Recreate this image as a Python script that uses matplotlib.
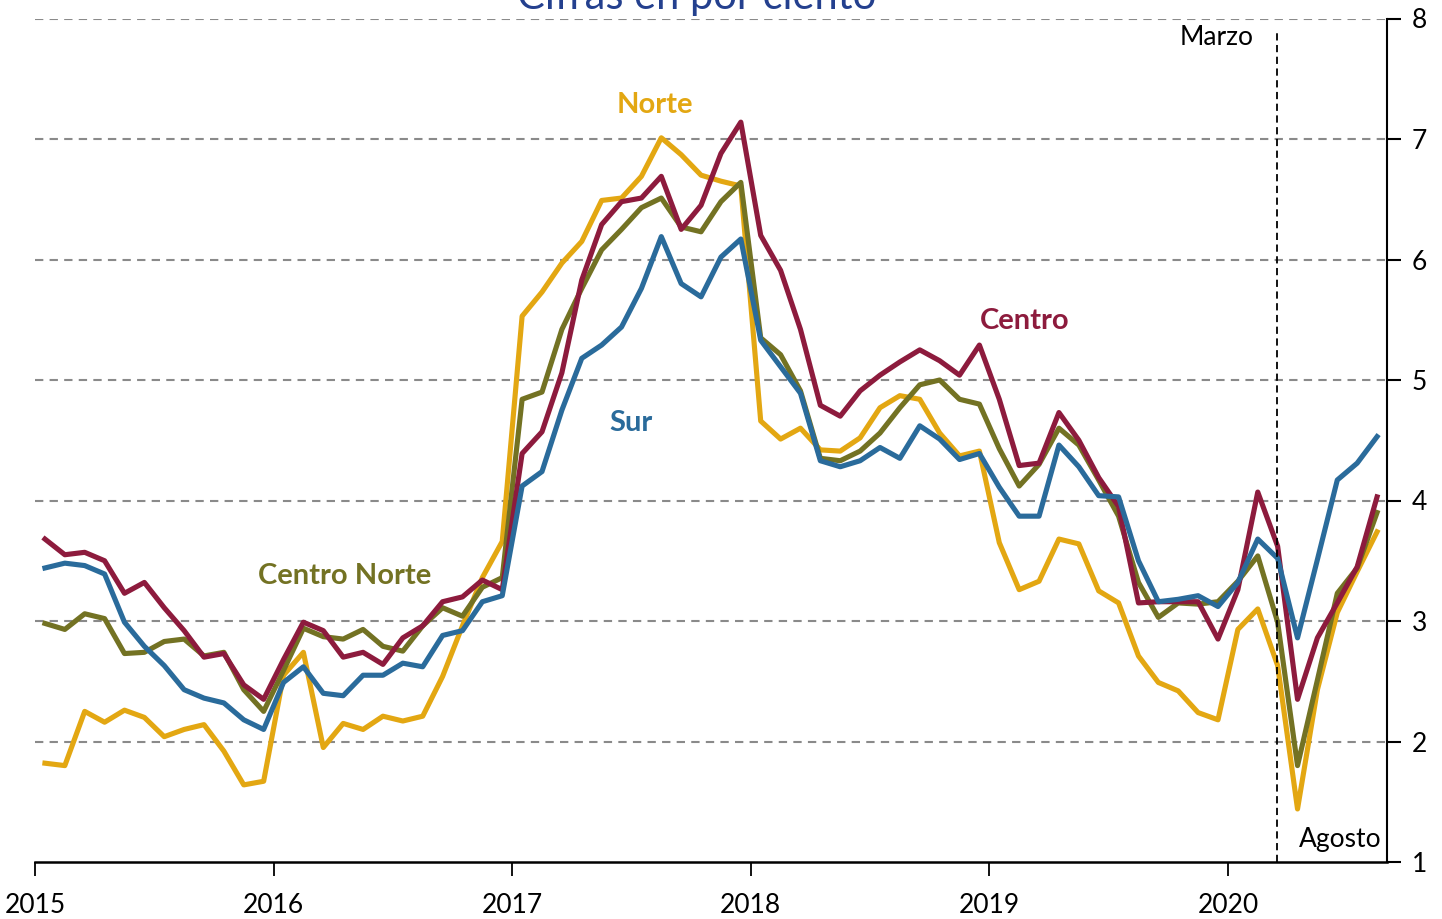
import matplotlib
matplotlib.use("Agg")
import matplotlib.pyplot as plt
import numpy as np

# Monthly data Jan 2015 - Aug 2020 (percent)
years = ["2015", "2016", "2017", "2018", "2019", "2020"]

norte = [1.82, 1.80, 2.25, 2.16, 2.26, 2.20, 2.04, 2.10, 2.14, 1.92, 1.64, 1.67,
         2.55, 2.74, 1.95, 2.15, 2.10, 2.21, 2.17, 2.21, 2.54, 2.96, 3.36, 3.66,
         5.53, 5.73, 5.97, 6.15, 6.49, 6.51, 6.69, 7.01, 6.87, 6.70, 6.65, 6.61,
         4.66, 4.51, 4.60, 4.42, 4.41, 4.52, 4.77, 4.87, 4.84, 4.56, 4.37, 4.41,
         3.65, 3.26, 3.33, 3.68, 3.64, 3.25, 3.15, 2.71, 2.49, 2.42, 2.24, 2.18,
         2.93, 3.10, 2.63, 1.44, 2.43, 3.07, 3.41, 3.74]

centro = [3.68, 3.55, 3.57, 3.50, 3.23, 3.32, 3.11, 2.92, 2.70, 2.73, 2.47, 2.35,
          2.68, 2.99, 2.92, 2.70, 2.74, 2.64, 2.86, 2.96, 3.16, 3.20, 3.34, 3.26,
          4.39, 4.57, 5.06, 5.83, 6.29, 6.48, 6.51, 6.69, 6.25, 6.45, 6.88, 7.14,
          6.20, 5.91, 5.42, 4.79, 4.70, 4.91, 5.04, 5.15, 5.25, 5.16, 5.04, 5.29,
          4.84, 4.29, 4.31, 4.73, 4.50, 4.19, 3.95, 3.15, 3.16, 3.16, 3.16, 2.85,
          3.26, 4.07, 3.62, 2.35, 2.86, 3.15, 3.45, 4.03]

centro_norte = [2.98, 2.93, 3.06, 3.02, 2.73, 2.74, 2.83, 2.85, 2.71, 2.74, 2.43, 2.25,
                2.59, 2.94, 2.87, 2.85, 2.93, 2.79, 2.75, 2.96, 3.11, 3.04, 3.28, 3.36,
                4.84, 4.90, 5.42, 5.76, 6.08, 6.25, 6.43, 6.51, 6.27, 6.23, 6.48, 6.64,
                5.35, 5.21, 4.91, 4.35, 4.33, 4.41, 4.56, 4.77, 4.96, 5.00, 4.84, 4.80,
                4.43, 4.12, 4.30, 4.60, 4.46, 4.17, 3.87, 3.32, 3.03, 3.15, 3.14, 3.16,
                3.33, 3.54, 2.99, 1.80, 2.51, 3.23, 3.44, 3.90]

sur = [3.44, 3.48, 3.46, 3.39, 2.99, 2.79, 2.63, 2.43, 2.36, 2.32, 2.18, 2.10,
       2.49, 2.62, 2.40, 2.38, 2.55, 2.55, 2.65, 2.62, 2.88, 2.92, 3.16, 3.21,
       4.12, 4.24, 4.75, 5.18, 5.29, 5.44, 5.76, 6.19, 5.80, 5.69, 6.02, 6.17,
       5.33, 5.11, 4.89, 4.33, 4.28, 4.33, 4.44, 4.35, 4.62, 4.51, 4.34, 4.39,
       4.11, 3.87, 3.87, 4.46, 4.28, 4.04, 4.03, 3.50, 3.16, 3.18, 3.21, 3.12,
       3.32, 3.68, 3.52, 2.86, 3.51, 4.17, 4.31, 4.53]

c_norte = "#E3A712"
c_centro = "#8D1B3D"
c_cnorte = "#737223"
c_sur = "#2A6B9B"

plt.rcParams['font.family'] = ['Lato', 'DejaVu Sans']

fig = plt.figure(figsize=(14.42, 9.19), dpi=100)
ax = fig.add_axes([35/1442, 1-862/919, (1387-35)/1442, (862-18.5)/919])

x = np.arange(len(norte)) + 0.5
lw = 3.7
ax.plot(x, norte, color=c_norte, lw=lw, zorder=3)
ax.plot(x, centro_norte, color=c_cnorte, lw=lw, zorder=4)
ax.plot(x, centro, color=c_centro, lw=lw, zorder=5)
ax.plot(x, sur, color=c_sur, lw=lw, zorder=6)

ax.set_xlim(0, 68)
ax.set_ylim(1, 8)

for yv in range(2, 9):
    ax.axhline(yv, color="#8a8a8a", lw=1.5, ls=(0, (4, 3)), zorder=1)

ax.axvline(62.45, ymin=0, ymax=0.985, color="black", lw=1.3, ls=(0, (4, 2.5)), zorder=7)

ax.spines['top'].set_visible(False)
ax.spines['left'].set_visible(False)
ax.spines['right'].set_linewidth(1.5)
ax.spines['bottom'].set_linewidth(1.8)

ax.yaxis.tick_right()
ax.set_yticks(range(1, 9))
ax.set_yticklabels([str(v) for v in range(1, 9)])
ax.set_xticks(np.arange(0, 61, 12))
ax.set_xticklabels(years)
ax.tick_params(axis='y', direction='out', length=10, width=1.5, labelsize=19, pad=8)
ax.tick_params(axis='x', direction='out', length=10, width=1.3, labelsize=19, pad=12)

ax.text(31.2, 7.28, "Norte", color=c_norte, fontsize=21, fontweight='bold', ha='center', va='center')
ax.text(49.8, 5.49, "Centro", color=c_centro, fontsize=21, fontweight='bold', ha='center', va='center')
ax.text(30.0, 4.645, "Sur", color=c_sur, fontsize=21, fontweight='bold', ha='center', va='center')
ax.text(15.55, 3.37, "Centro Norte", color=c_cnorte, fontsize=21, fontweight='bold', ha='center', va='center')
ax.text(61.3, 7.84, "Marzo", color="black", fontsize=19, ha='right', va='center')
ax.text(65.65, 1.19, "Agosto", color="black", fontsize=19, ha='center', va='center')

fig.text(0.483, 1.003, "Cifras en por ciento", color="#24408E", fontsize=30, ha='center', va='center')

fig.savefig("out.png", dpi=100)
